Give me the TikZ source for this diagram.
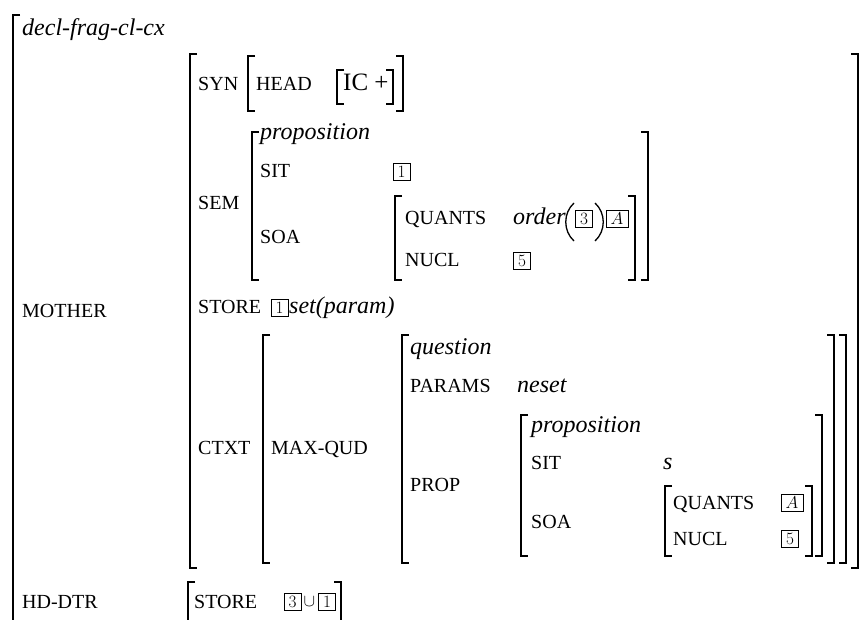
\documentclass[tikz,border=0pt]{standalone}
\usepackage[no-math]{fontspec}
\setmainfont{Liberation Serif}
\newcommand\avmbr[4]{%
  \draw[brk] (#1+7,#3) -- (#1,#3) -- (#1,#4) -- (#1+7,#4);
  \draw[brk] (#2-7,#3) -- (#2,#3) -- (#2,#4) -- (#2-7,#4);}
\begin{document}
\begin{tikzpicture}[x=1pt,y=-1pt,
  brk/.style={line width=1.4pt, line cap=butt, line join=miter},
  lab/.style={anchor=base west, inner sep=0pt, font=\fontsize{20}{24}\selectfont},
  typ/.style={anchor=base west, inner sep=0pt, font=\fontsize{24}{28}\selectfont\itshape},
  tag/.style={draw, line width=0.7pt, minimum width=17pt, minimum height=17pt, inner sep=2.5pt, font=\fontsize{16.5}{17}\selectfont, anchor=center},
  paren/.style={line width=1.3pt}]
\useasboundingbox (0,0) rectangle (860,620);
% outer
\draw[brk] (20,15) -- (13,15) -- (13,620);
\node[typ] (type) at (22,36) {decl-frag-cl-cx};
\node[lab] (mother) at (22,318) {MOTHER};
\node[lab] (hddtr) at (22,608) {HD-DTR};
% MOTHER AVM
\avmbr{190}{858}{54}{568}
\node[lab] (syn) at (198,91) {SYN};
\avmbr{248}{403}{56}{111}
\node[lab] (head) at (256,91) {HEAD};
\avmbr{337}{393}{70}{104}
\node[anchor=base west, inner sep=0pt, font=\fontsize{25}{30}\selectfont] (ic) at (343,91) {IC +};
% SEM
\node[lab] (sem) at (198,210) {SEM};
\avmbr{252}{648}{132}{280}
\node[typ] (prop1) at (260,140) {proposition};
\node[lab] (sit1) at (260,178) {SIT};
\node[tag] (t1a) at (401.5,172) {$1$};
\node[lab] (soa1) at (260,244) {SOA};
\avmbr{395}{635}{196}{280}
\node[lab] (quants1) at (405,225) {QUANTS};
\node[typ] (order) at (513,225) {order};
\draw[paren] (574,203) .. controls (563,213) and (563,231) .. (574,241);
\node[tag] (t3a) at (584,219) {$3$};
\draw[paren] (595,203) .. controls (606,213) and (606,231) .. (595,241);
\node[tag, minimum width=22pt] (tAa) at (617,219) {$A$};
\node[lab] (nucl1) at (405,267) {NUCL};
\node[tag] (t5a) at (522,261) {$5$};
% STORE
\node[lab] (store1) at (198,314) {STORE};
\node[tag] (t1b) at (279.5,308) {$1$};
\node[typ] (setp) at (289,314) {set(param)};
% CTXT
\node[lab] (ctxt) at (198,454) {CTXT};
\avmbr{263}{846}{335}{563}
\node[lab] (maxqud) at (271,454) {MAX-QUD};
\avmbr{402}{834}{335}{563}
\node[typ] (question) at (410,355) {question};
\node[lab] (params) at (410,393) {PARAMS};
\node[typ] (neset) at (517,393) {neset};
\node[lab] (prop) at (410,491) {PROP};
\avmbr{521}{822}{415}{556}
\node[typ] (prop2) at (531,432) {proposition};
\node[lab] (sit2) at (531,469) {SIT};
\node[typ] (s) at (663,469) {s};
\node[lab] (soa2) at (531,528) {SOA};
\avmbr{665}{812}{486}{556}
\node[lab] (quants2) at (673,509) {QUANTS};
\node[tag, minimum width=22pt] (tAb) at (792,503) {$A$};
\node[lab] (nucl2) at (673,545) {NUCL};
\node[tag] (t5b) at (790,539) {$5$};
% HD-DTR
\draw[brk] (195,582) -- (188,582) -- (188,620);
\draw[brk] (334,582) -- (341,582) -- (341,620);
\node[lab] (store2) at (194,608) {STORE};
\node[tag] (t3b) at (292.5,602) {$3$};
\node[inner sep=0pt, font=\fontsize{16}{16}\selectfont] (cup) at (309.5,602) {$\cup$};
\node[tag] (t1c) at (327,602) {$1$};
\end{tikzpicture}
\end{document}
